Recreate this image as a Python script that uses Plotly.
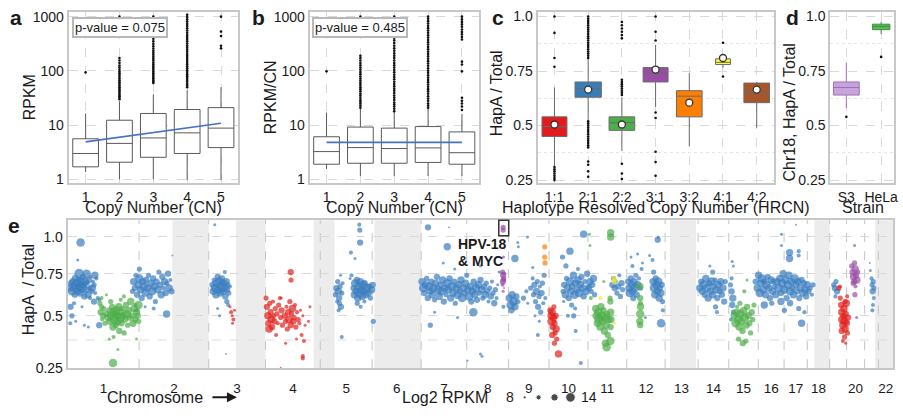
import plotly.graph_objects as go

W, H = 903, 419
FONT = "Liberation Sans, Arial, Helvetica, sans-serif"
INK = "#1a1a1a"
FRAME = "#c8c8c8"
GRID = "#d9d9d9"

# ---------------- panel a : RPKM by copy number ----------------
CN = [1, 2, 3, 4, 5]
A_Q1 = [1.7, 2.07, 2.55, 3.0, 3.85]
A_MED = [3.0, 4.6, 5.8, 7.2, 8.8]
A_Q3 = [5.6, 12.3, 16.4, 19.4, 21.0]
A_LOW = [1.36, 1.0, 1.0, 0.97, 0.97]
A_HIGH = [16.4, 27.6, 37.0, 44.0, 50.0]
A_OUT1 = [94]
A_OUT2 = [30, 32, 34, 36, 38, 41, 44, 47, 50, 54, 58, 62, 67, 72, 78, 84, 90, 97, 105, 115, 126, 140, 155, 172, 1000]
A_OUT3 = [60, 64, 68, 73, 78, 84, 90, 97, 105, 113, 122, 132, 143, 155, 168, 182, 198, 215, 235, 258, 285, 315, 350, 390, 440, 1000]
A_OUT4 = [50, 54, 58, 63, 68, 74, 80, 87, 95, 103, 112, 122, 133, 145, 158, 172, 188, 205, 225, 245, 268, 292, 320, 350, 385, 420, 460, 505, 555, 610, 670, 735, 810, 890, 980, 1080]
A_OUT5 = [260, 290, 440, 530, 1000]
A_TREND = [4.9, 10.8]
A_PVAL = "p-value = 0.075"

# ---------------- panel b : RPKM/CN by copy number ----------------
B_Q1 = [1.9, 1.98, 1.98, 2.05, 1.9]
B_MED = [3.25, 3.85, 3.7, 3.8, 3.1]
B_Q3 = [6.1, 9.2, 8.8, 9.4, 7.5]
B_LOW = [1.55, 1.15, 1.15, 1.15, 1.15]
B_HIGH = [17, 20, 19, 20, 16]
B_OUT1 = [98]
B_OUT2 = [21, 23, 25, 27, 29, 32, 35, 38, 42, 46, 50, 55, 60, 66, 72, 79, 87, 95, 105, 115, 127, 140, 155, 172, 190, 1000]
B_OUT3 = [18, 20, 22, 24, 26, 29, 32, 35, 39, 43, 47, 52, 57, 63, 70, 77, 85, 94, 104, 115, 127, 140, 155, 172, 190, 210, 235, 260, 290, 325, 365, 410, 450, 1000]
B_OUT4 = [21, 23, 25, 28, 31, 34, 38, 42, 46, 51, 56, 62, 68, 75, 83, 92, 101, 112, 124, 137, 151, 167, 185, 205, 226, 250, 276, 305, 337, 372, 411, 454, 502, 555, 613, 677, 748, 826, 913, 1000]
B_OUT5 = [19, 22, 25, 28, 32, 98, 131, 148, 380, 420, 470, 520, 580, 650, 720, 800, 890, 1000]
B_TREND = [4.8, 4.8]
B_PVAL = "p-value = 0.485"

# ---------------- panel c : HapA/Total by HRCN ----------------
HRCN = ["1:1", "2:1", "2:2", "3:1", "3:2", "4:1", "4:2"]
C_Q1 = [0.45, 0.63, 0.478, 0.70, 0.54, 0.78, 0.605]
C_MED = [0.495, 0.67, 0.513, 0.74, 0.635, 0.79, 0.65]
C_Q3 = [0.54, 0.70, 0.54, 0.766, 0.66, 0.806, 0.695]
C_LOW = [0.315, 0.525, 0.383, 0.586, 0.405, 0.765, 0.49]
C_HIGH = [0.675, 0.805, 0.63, 0.87, 0.74, 0.82, 0.70]
C_MEAN = [0.505, 0.665, 0.505, 0.757, 0.605, 0.81, 0.665]
C_OUT = [
    [1.0, 0.925, 0.81, 0.77, 0.31, 0.30, 0.29, 0.28, 0.27, 0.26, 0.25],
    [1.0, 0.99, 0.98, 0.97, 0.96, 0.95, 0.94, 0.93, 0.92, 0.91, 0.90, 0.89, 0.88, 0.87, 0.86, 0.85, 0.84, 0.83, 0.82, 0.81,
     0.52, 0.51, 0.50, 0.49, 0.48, 0.47, 0.46, 0.45, 0.44, 0.43, 0.42, 0.41, 0.40, 0.335, 0.32, 0.29, 0.265],
    [0.975, 0.96, 0.945, 0.93, 0.915, 0.90, 0.71, 0.70, 0.69, 0.68, 0.67, 0.66, 0.65, 0.64, 0.325, 0.28, 0.255],
    [1.0, 0.93, 0.89, 0.56, 0.535, 0.38, 0.333, 0.27],
    [],
    [0.88, 0.725],
    [],
]

# ---------------- panel d : Chr18 HapA/Total by strain ----------------
STRAIN = ["S3", "HeLa"]
D_Q1 = [0.64, 0.94]
D_MED = [0.675, 0.955]
D_Q3 = [0.70, 0.965]
D_LOW = [0.58, 0.92]
D_HIGH = [0.79, 0.977]
D_OUT = [[0.54], [0.815]]

# ---------------- panel e : genome-wide HapA/Total ----------------
CHROM_LEN = [249, 243, 198, 191, 181, 171, 159, 146, 141, 136, 135, 134, 115, 107, 103, 90, 81, 78, 59, 63, 48, 51]
TICK_CHROMS = ["1", "2", "3", "4", "5", "6", "7", "8", "9", "10", "11", "12", "13", "14", "15", "16", "17", "18", "20", "22"]
GRAY_BANDS = [(365, 492), (587, 690), (858, 931), (1070, 1233), (2101, 2192), (2605, 2658), (2817, 2879)]
LEGEND_R = [8, 10, 12, 14]

# (genome position Mb, HapA/Total, log2 RPKM)
E_BLUE = [
    (8, .66, 12), (12, .69, 11), (15, .64, 13), (18, .70, 12), (22, .67, 13), (25, .62, 11), (27, .72, 12), (30, .66, 14),
    (33, .69, 13), (36, .64, 12), (38, .71, 11), (41, .67, 13), (44, .63, 12), (47, .70, 13), (50, .66, 14), (53, .73, 11),
    (55, .68, 12), (58, .61, 11), (60, .70, 13), (63, .65, 12), (66, .75, 13), (68, .69, 10), (71, .62, 12), (74, .71, 11),
    (77, .66, 10), (80, .73, 9), (84, .64, 10), (88, .70, 9), (92, .68, 10), (96, .63, 9), (100, .72, 9), (105, .60, 9),
    (45, .96, 13), (40, .75, 14), (35, .84, 8), (10, .55, 11), (15, .50, 10), (9, .46, 9), (22, .57, 9), (28, .47, 8),
    (50, .55, 8), (58, .45, 8), (72, .44, 8), (92, .58, 11), (110, .45, 11), (110, .59, 9), (95, .74, 12), (86, .66, 12), (78, .60, 9),
    (226, .64, 10), (230, .70, 12), (234, .66, 11), (238, .74, 10), (242, .62, 11), (246, .68, 12), (250, .72, 13), (254, .65, 12),
    (258, .60, 11), (262, .70, 12), (266, .67, 13), (270, .63, 12), (274, .71, 11), (278, .66, 12), (282, .74, 10), (286, .61, 11),
    (290, .69, 12), (294, .64, 13), (298, .72, 11), (302, .67, 12), (306, .58, 10), (310, .70, 11), (314, .65, 12), (318, .76, 10),
    (322, .68, 11), (326, .62, 12), (330, .73, 11), (334, .66, 10), (338, .70, 12), (342, .63, 11), (346, .69, 10), (350, .75, 11),
    (354, .66, 12), (358, .71, 9), (362, .64, 11), (236, .56, 9), (240, .53, 9), (300, .54, 9), (345, .51, 12), (365, .87, 7),
    (250, .78, 10), (270, .55, 8),
    (505, .68, 11), (508, .64, 12), (511, .71, 10), (514, .66, 13), (517, .62, 12), (520, .69, 13), (523, .73, 11), (526, .65, 12),
    (529, .70, 13), (532, .63, 12), (535, .67, 14), (538, .72, 11), (541, .64, 12), (544, .69, 12), (547, .66, 13), (550, .61, 11),
    (553, .70, 12), (556, .65, 11), (559, .68, 10), (562, .63, 10), (566, .67, 9), (548, .76, 9), (555, .58, 10), (560, .56, 9),
    (513, 1.09, 8), (523, .54, 8), (530, .50, 8), (552, .31, 7),
    (934, .62, 10), (937, .66, 11), (940, .58, 9), (942, .70, 10), (944, .64, 12), (947, .60, 11), (950, .67, 10), (953, .55, 11),
    (956, .63, 10), (959, .69, 9), (945, .53, 9), (952, .74, 8), (948, .57, 10),
    (997, .66, 11), (1000, .62, 12), (1003, .69, 13), (1006, .64, 12), (1009, .71, 11), (1012, .60, 12), (1015, .67, 13),
    (1018, .63, 14), (1021, .70, 12), (1024, .65, 13), (1027, .61, 12), (1030, .68, 13), (1033, .64, 12), (1036, .69, 11),
    (1040, .62, 12), (1044, .66, 13), (1048, .63, 12), (1052, .67, 11), (1056, .60, 10), (1060, .65, 12), (1064, .68, 11),
    (1010, .57, 10), (1022, .55, 9), (1035, .58, 9), (1017, 1.09, 9), (1019, 1.05, 10), (1020, .96, 11), (988, .89, 9),
    (1002, .85, 8), (956, .39, 9), (1066, .47, 10), (990, .74, 9), (985, .72, 8),
    (1236, .70, 12), (1240, .66, 13), (1244, .63, 11), (1248, .68, 12), (1252, .72, 10), (1256, .60, 11), (1260, .67, 13),
    (1264, .64, 12), (1268, .70, 11), (1272, .62, 12), (1276, .66, 13), (1280, .59, 10), (1284, .69, 12), (1288, .73, 11),
    (1292, .65, 13), (1296, .61, 12), (1300, .68, 11), (1304, .64, 13), (1308, .71, 12), (1312, .58, 11), (1316, .66, 12),
    (1320, .62, 10), (1324, .69, 13), (1328, .65, 12), (1332, .72, 11), (1336, .60, 12), (1340, .67, 13), (1344, .63, 12),
    (1348, .70, 11), (1352, .57, 10), (1356, .66, 12), (1360, .62, 13), (1364, .68, 12), (1368, .64, 11), (1372, .71, 12),
    (1376, .60, 13), (1380, .66, 12), (1384, .63, 11), (1388, .69, 12), (1392, .74, 10), (1396, .65, 12), (1400, .61, 13),
    (1404, .67, 12), (1408, .58, 11), (1412, .64, 12), (1416, .70, 11), (1420, .62, 12), (1424, .66, 13), (1428, .59, 11),
    (1432, .68, 12), (1436, .63, 10), (1440, .71, 11), (1444, .65, 12), (1448, .60, 10), (1452, .67, 11), (1456, .62, 12),
    (1460, .69, 10), (1464, .64, 11), (1468, .58, 9), (1472, .66, 10), (1476, .61, 11), (1480, .70, 9), (1484, .63, 10),
    (1488, .57, 11), (1492, .65, 10), (1496, .60, 9), (1500, .68, 8),
    (1540, .60, 12), (1545, .56, 13), (1550, .62, 12), (1555, .58, 13), (1560, .55, 12), (1565, .61, 11), (1570, .58, 10),
    (1548, .53, 11), (1257, 1.07, 11), (1330, 1.07, 7), (1324, .93, 12), (1265, .45, 10), (1310, .82, 8), (1360, .49, 8),
    (1440, .31, 8), (1445, .30, 8), (1395, .28, 7), (1415, .52, 13), (1560, .85, 12), (1570, .96, 8), (1572, .93, 8),
    (1604, 1.0, 8), (1520, .55, 9), (1505, .76, 8), (1350, .78, 8), (1280, .52, 8), (1440, .80, 8),
    (1615, .66, 10), (1622, .72, 9), (1625, .62, 10), (1628, .68, 11), (1632, .58, 10), (1635, .64, 12), (1638, .70, 10),
    (1641, .55, 11), (1644, .61, 10), (1647, .67, 9), (1650, .52, 10), (1653, .63, 11), (1656, .69, 10), (1659, .57, 9),
    (1662, .74, 10), (1666, .60, 9), (1630, .50, 8), (1645, .47, 8), (1640, .40, 9), (1622, .79, 8), (1600, .64, 9),
    (1590, .60, 10), (1605, .57, 8),
    (1728, .64, 10), (1732, .68, 11), (1736, .62, 12), (1740, .72, 10), (1744, .66, 12), (1748, .60, 11), (1752, .70, 13),
    (1756, .64, 12), (1760, .67, 11), (1764, .74, 12), (1768, .62, 13), (1772, .69, 12), (1776, .65, 11), (1780, .71, 12),
    (1784, .63, 13), (1788, .68, 12), (1792, .73, 11), (1796, .66, 12), (1800, .61, 11), (1804, .70, 10), (1808, .64, 12),
    (1812, .75, 11), (1816, .67, 10), (1758, .56, 10), (1770, .54, 9), (1726, .86, 10), (1752, .90, 12), (1738, .80, 10),
    (1800, 1.02, 12), (1780, .78, 9), (1765, .50, 10), (1772, .42, 9), (1745, .50, 9), (1790, .27, 9), (1730, .58, 8),
    (1818, .66, 11), (1822, .70, 12), (1826, .64, 10), (1830, .68, 11), (1834, .72, 12), (1838, .62, 10), (1900, .68, 11),
    (1904, .72, 10), (1908, .66, 11), (1912, .70, 9), (1916, .63, 10), (1920, .67, 11), (1924, .74, 9), (1928, .61, 10),
    (1932, .69, 11), (1936, .65, 10),
    (1955, .70, 11), (1958, .66, 12), (1961, .63, 13), (1964, .72, 11), (1967, .68, 12), (1970, .64, 12), (1973, .60, 11),
    (1976, .70, 12), (1979, .66, 13), (1982, .74, 10), (1985, .62, 11), (1988, .68, 12), (1993, .72, 9), (1998, .66, 10),
    (2002, .78, 9), (2005, .82, 8), (2042, .70, 12), (2045, .66, 13), (2048, .62, 12), (2051, .72, 11), (2054, .68, 13),
    (2057, .64, 12), (2060, .70, 13), (2063, .60, 12), (2066, .66, 11), (2069, .63, 12), (2072, .68, 11), (2075, .58, 10),
    (2044, .76, 10), (2058, .98, 11), (2060, 1.0, 8), (2070, .46, 13), (2076, .53, 9), (2040, .84, 9), (1965, .86, 8),
    (1970, .80, 9), (1988, .88, 8), (2030, .87, 8), (2015, .49, 8),
    (2205, .66, 12), (2210, .70, 11), (2214, .64, 12), (2218, .68, 13), (2222, .62, 11), (2226, .72, 12), (2230, .66, 13),
    (2234, .60, 12), (2238, .69, 11), (2242, .64, 12), (2246, .70, 13), (2250, .62, 12), (2254, .67, 11), (2258, .71, 10),
    (2262, .65, 12), (2266, .60, 11), (2270, .68, 12), (2274, .64, 11), (2278, .70, 12), (2282, .62, 11), (2286, .66, 12),
    (2290, .58, 11), (2294, .70, 10), (2250, .76, 10), (2260, .55, 10), (2265, .52, 9), (2240, .80, 8),
    (2312, .68, 10), (2316, .64, 11), (2320, .60, 12), (2318, .56, 11), (2322, .52, 10), (2314, .48, 9), (2322, .80, 8),
    (2316, .72, 9), (2318, .83, 8),
    (2400, .70, 11), (2405, .66, 12), (2410, .74, 12), (2414, .63, 13), (2418, .69, 12), (2422, .72, 13), (2426, .65, 12),
    (2430, .70, 11), (2434, .62, 12), (2438, .68, 13), (2442, .73, 11), (2446, .66, 12), (2450, .60, 11), (2454, .71, 12),
    (2458, .64, 12), (2462, .70, 11), (2466, .67, 10), (2470, .62, 12), (2456, .57, 10), (2430, .56, 12),
    (2475, .70, 12), (2480, .66, 13), (2484, .72, 12), (2488, .63, 11), (2492, .69, 13), (2496, .75, 12), (2500, .65, 13),
    (2504, .71, 12), (2508, .60, 11), (2512, .68, 13), (2516, .74, 12), (2520, .64, 13), (2524, .70, 12), (2528, .66, 11),
    (2532, .62, 12), (2536, .72, 13), (2540, .68, 12), (2544, .64, 11), (2548, .70, 12), (2552, .60, 11), (2556, .66, 12),
    (2560, .71, 11), (2564, .63, 12), (2568, .69, 11), (2572, .65, 12), (2576, .61, 11), (2580, .68, 12), (2584, .64, 11),
    (2590, .66, 10), (2596, .62, 9), (2600, .68, 10),
    (2490, 1.02, 8), (2490, .94, 8), (2518, .89, 12), (2518, .85, 12), (2540, 1.09, 7), (2550, .90, 9), (2550, .87, 9),
    (2488, .58, 12), (2500, .53, 10), (2560, .46, 12), (2550, .54, 10), (2570, .52, 9), (2520, .57, 11),
    (2672, .68, 10), (2676, .66, 11), (2680, .70, 10), (2684, .64, 11), (2678, .61, 9),
    (2804, .72, 9), (2806, .68, 10), (2808, .64, 11), (2810, .70, 10), (2812, .60, 9), (2809, .56, 9), (2807, .53, 9),
    (2812, .66, 10), (2800, .77, 8), (2798, .82, 7),
]

E_GREEN = [
    (112, .57, 10), (115, .52, 11), (118, .55, 10), (120, .48, 9), (123, .50, 11), (126, .54, 10), (130, .46, 10), (135, .51, 11),
    (140, .49, 12), (145, .53, 11), (148, .47, 12), (152, .50, 13), (155, .55, 11), (158, .44, 12), (160, .52, 13), (163, .48, 14),
    (166, .51, 12), (168, .45, 11), (170, .53, 13), (173, .50, 12), (175, .47, 13), (178, .55, 12), (180, .42, 11), (183, .49, 14),
    (186, .52, 12), (188, .46, 11), (191, .54, 10), (194, .50, 12), (197, .41, 10), (200, .48, 11), (203, .56, 11), (206, .51, 13),
    (209, .45, 10), (212, .53, 12), (215, .49, 11), (220, .58, 12), (224, .50, 11), (228, .46, 12), (232, .54, 12), (236, .48, 11),
    (240, .52, 12), (244, .50, 11), (248, .47, 10), (247, .56, 13),
    (118, .60, 9), (135, .62, 8), (145, .38, 8), (160, .39, 9), (150, .58, 10), (196, .61, 9), (175, .33, 8), (240, .38, 8),
    (158, .27, 13), (185, .59, 9),
    (1842, .54, 12), (1845, .50, 13), (1848, .46, 12), (1851, .52, 13), (1854, .48, 14), (1857, .44, 12), (1860, .55, 12),
    (1863, .50, 13), (1866, .47, 12), (1869, .53, 11), (1872, .42, 12), (1875, .49, 13), (1878, .45, 12), (1881, .51, 11),
    (1884, .40, 11), (1887, .48, 12), (1876, .36, 12), (1880, .34, 13), (1893, .58, 11), (1894, .52, 12), (1895, .48, 12),
    (1894, .44, 11), (1893, .37, 13), (1892, .60, 10), (1894, 1.03, 12), (1894, 1.0, 12), (1820, 1.02, 8), (1822, .94, 8),
    (1825, .60, 9), (1870, .70, 8),
    (1996, .67, 12), (1997, .60, 11), (1998, .55, 12), (1997, .51, 13), (1996, .47, 12), (1997, .45, 11), (1998, .57, 10),
    (2325, .50, 12), (2330, .46, 13), (2334, .52, 12), (2338, .48, 13), (2342, .44, 12), (2346, .51, 13), (2350, .47, 12),
    (2354, .42, 11), (2358, .53, 12), (2362, .49, 13), (2366, .45, 12), (2370, .55, 11), (2374, .50, 12), (2378, .46, 11),
    (2382, .41, 10), (2386, .52, 11), (2390, .48, 10), (2340, .38, 10), (2355, .36, 11), (2366, .37, 10), (2394, .56, 10),
    (2345, .57, 10), (2335, .55, 9), (2360, .64, 9), (2370, .71, 8),
]

E_RED = [
    (566, .55, 8), (570, .52, 9), (574, .50, 8), (578, .48, 9), (582, .53, 8), (575, .46, 8),
    (692, .60, 10), (695, .55, 11), (698, .50, 12), (700, .46, 11), (703, .43, 12), (705, .57, 10), (708, .52, 11), (710, .48, 12),
    (713, .44, 11), (716, .58, 9), (718, .50, 10), (721, .47, 11), (724, .54, 10), (727, .40, 9), (730, .51, 10), (733, .46, 9),
    (736, .56, 10), (740, .60, 9), (743, .49, 10), (746, .53, 11), (749, .45, 10), (778, .76, 11), (779, .71, 10), (757, .50, 11),
    (760, .47, 10), (763, .55, 9), (766, .43, 10), (769, .52, 11), (772, .48, 12), (775, .58, 10), (778, .45, 11), (781, .51, 10),
    (784, .54, 12), (787, .47, 11), (790, .49, 10), (793, .56, 9), (796, .44, 10), (800, .52, 9), (804, .48, 10), (808, .46, 9),
    (812, .53, 8), (816, .40, 9), (820, .50, 8), (824, .37, 9), (828, .45, 8), (820, .30, 9), (820, .29, 9), (840, .47, 8),
    (845, .55, 8), (798, .38, 8), (760, .36, 8), (745, .60, 8), (743, .25, 7),
    (1684, .53, 11), (1686, .50, 12), (1688, .47, 13), (1690, .52, 12), (1692, .44, 11), (1694, .49, 12), (1696, .55, 10),
    (1698, .46, 11), (1700, .41, 10), (1702, .50, 11), (1704, .43, 12), (1706, .38, 10), (1690, .40, 11), (1698, .36, 10),
    (1712, .31, 12),
    (2690, .66, 10), (2694, .67, 9),
    (2695, .60, 10), (2698, .56, 11), (2700, .52, 12), (2702, .48, 13), (2704, .45, 12), (2706, .50, 11), (2708, .54, 12),
    (2710, .47, 13), (2712, .43, 12), (2714, .51, 11), (2716, .57, 12), (2718, .46, 11), (2720, .41, 10), (2722, .49, 11),
    (2710, .39, 10), (2704, .37, 9), (2714, .36, 8), (2700, .42, 11), (2719, .61, 9), (2712, .58, 10),
]

E_PURPLE = [
    (1519, 1.07, 10), (1519, 1.05, 10), (1517, .76, 10), (1519, .74, 11), (1521, .72, 10), (1518, .70, 11), (1520, .71, 10),
    (1522, .75, 9), (1517, .68, 9), (1520, .86, 8), (1521, .92, 7), (1519, .64, 8), (1522, .66, 7),
    (2735, .80, 10), (2738, .76, 11), (2741, .73, 12), (2744, .70, 11), (2747, .78, 12), (2750, .74, 11), (2753, .71, 12),
    (2745, .82, 10), (2740, .69, 10), (2748, .67, 9), (2756, .76, 10), (2745, .94, 8), (2746, .62, 10), (2752, .49, 8),
]

E_ORANGE = [(1664, .93, 10), (1664, .86, 10), (1665, .82, 10), (1667, .74, 7)]
E_YELLOW = [(1906, .72, 10), (1907, .70, 10), (1858, .60, 9), (1907, .46, 8)]


# ---------------- helpers (layout only) ----------------
def dx(p0, p1):
    return [p0 / W, p1 / W]


def dy(p0, p1):
    return [1 - p1 / H, 1 - p0 / H]


def s(v):
    # HapA/Total axis of panel e is drawn on a compressed (power 0.6) scale
    return v ** 0.6


def msize(r):
    return max(1.6, 1.1 * r - 5.8)


fig = go.Figure()

# ---- panels a & b ----
for ax, Q1, MED, Q3, LO, HI, OUTS, TREND in [
    ("", A_Q1, A_MED, A_Q3, A_LOW, A_HIGH, [A_OUT1, A_OUT2, A_OUT3, A_OUT4, A_OUT5], A_TREND),
    ("2", B_Q1, B_MED, B_Q3, B_LOW, B_HIGH, [B_OUT1, B_OUT2, B_OUT3, B_OUT4, B_OUT5], B_TREND),
]:
    for i, c in enumerate(CN):
        fig.add_trace(go.Box(x=[c], q1=[Q1[i]], median=[MED[i]], q3=[Q3[i]], lowerfence=[LO[i]],
                             upperfence=[HI[i]], width=0.76, whiskerwidth=0, fillcolor="white",
                             line=dict(color="#5a5a5a", width=1), boxpoints=False,
                             xaxis="x" + ax, yaxis="y" + ax, showlegend=False, hoverinfo="skip"))
        fig.add_trace(go.Scatter(x=[c] * len(OUTS[i]), y=OUTS[i], mode="markers",
                                 marker=dict(size=2.6, color="#111"), xaxis="x" + ax, yaxis="y" + ax,
                                 showlegend=False, hoverinfo="skip", cliponaxis=False))
    fig.add_trace(go.Scatter(x=[CN[0], CN[-1]], y=TREND, mode="lines", line=dict(color="#4472c4", width=1.6),
                             xaxis="x" + ax, yaxis="y" + ax, showlegend=False, hoverinfo="skip"))

# ---- panel c ----
C_FILL = ["#e41a1c", "#377eb8", "#4daf4a", "#984ea3", "#ff7f00", "#ffff33", "#a65628"]
C_WIDTH = [0.74, 0.78, 0.76, 0.74, 0.76, 0.44, 0.76]
for i, lab in enumerate(HRCN):
    xpos = i + 1
    fig.add_trace(go.Box(x=[xpos], q1=[C_Q1[i]], median=[C_MED[i]], q3=[C_Q3[i]], lowerfence=[C_LOW[i]],
                         upperfence=[C_HIGH[i]], width=C_WIDTH[i], whiskerwidth=0, fillcolor=C_FILL[i],
                         line=dict(color="#6a6a6a", width=1), boxpoints=False, xaxis="x3", yaxis="y3",
                         showlegend=False, hoverinfo="skip"))
    if C_OUT[i]:
        fig.add_trace(go.Scatter(x=[xpos] * len(C_OUT[i]), y=C_OUT[i], mode="markers",
                                 marker=dict(size=2.6, color="#111"), xaxis="x3", yaxis="y3",
                                 showlegend=False, hoverinfo="skip", cliponaxis=False))
fig.add_trace(go.Scatter(x=list(range(1, len(HRCN) + 1)), y=C_MEAN, mode="markers",
                         marker=dict(size=7, color="white", line=dict(color="#333", width=1.3)),
                         xaxis="x3", yaxis="y3", showlegend=False, hoverinfo="skip"))

# ---- panel d ----
D_FILL = ["#c9a3dc", "#5cb85c"]
D_LINE = ["#9b72b0", "#3f8f3f"]
D_WIDTH = [0.74, 0.5]
for i, lab in enumerate(STRAIN):
    fig.add_trace(go.Box(x=[i + 1], q1=[D_Q1[i]], median=[D_MED[i]], q3=[D_Q3[i]], lowerfence=[D_LOW[i]],
                         upperfence=[D_HIGH[i]], width=D_WIDTH[i], whiskerwidth=0, fillcolor=D_FILL[i],
                         line=dict(color=D_LINE[i], width=1), boxpoints=False, xaxis="x4", yaxis="y4",
                         showlegend=False, hoverinfo="skip"))
    fig.add_trace(go.Scatter(x=[i + 1] * len(D_OUT[i]), y=D_OUT[i], mode="markers",
                             marker=dict(size=2.6, color="#111"), xaxis="x4", yaxis="y4",
                             showlegend=False, hoverinfo="skip"))

# ---- panel e ----
starts = [0]
for L in CHROM_LEN:
    starts.append(starts[-1] + L)
GENOME = starts[-1]
centers = [starts[i] + CHROM_LEN[i] / 2 for i in range(len(CHROM_LEN))]
tick_pos = [centers[int(c) - 1] for c in TICK_CHROMS]

for pts, col in [(E_BLUE, "#3a7dbf"), (E_GREEN, "#4fae4a"), (E_RED, "#e3211c"), (E_PURPLE, "#9a4fa6"),
                 (E_ORANGE, "#ff7f00"), (E_YELLOW, "#f0ee2a")]:
    fig.add_trace(go.Scatter(x=[p[0] for p in pts], y=[s(p[1]) for p in pts], mode="markers",
                             marker=dict(size=[msize(p[2]) for p in pts], color=col, line=dict(width=0)),
                             xaxis="x5", yaxis="y5", showlegend=False, hoverinfo="skip"))

# legend of marker size (overlay pixel axis)
LEG_X = [527, 541, 557, 573]
fig.add_trace(go.Scatter(x=LEG_X, y=[405] * 4, mode="markers",
                         marker=dict(size=[msize(r) for r in LEGEND_R], color="#000"),
                         xaxis="x7", yaxis="y7", showlegend=False, hoverinfo="skip", cliponaxis=False))

shapes = []
for a0, a1 in GRAY_BANDS:
    shapes.append(dict(type="rect", xref="x5", yref="y5 domain", x0=a0, x1=a1, y0=0, y1=1,
                       fillcolor="#ececec", line=dict(width=0), layer="below"))
for b in starts[1:-1]:
    shapes.append(dict(type="line", xref="x5", yref="y5 domain", x0=b, x1=b, y0=0, y1=1,
                       line=dict(color="#c4c4c4", width=1, dash="dash"), layer="below"))
shapes.append(dict(type="line", xref="x5 domain", yref="y5", x0=0, x1=1, y0=s(0.375), y1=s(0.375),
                   line=dict(color="#dcdcdc", width=1, dash="dash"), layer="below"))
# highlight box around HPV-18 / MYC point
shapes.append(dict(type="rect", xref="paper", yref="paper", x0=501 / W, x1=511 / W, y0=1 - 239 / H, y1=1 - 223 / H,
                   line=dict(color="#333", width=1.5), fillcolor="rgba(0,0,0,0)"))

ann = []


def text(x, y, t, size=16, bold=False, xanchor="center", angle=0, **kw):
    ann.append(dict(x=x / W, y=1 - y / H, xref="paper", yref="paper", text=("<b>%s</b>" % t) if bold else t,
                    showarrow=False, xanchor=xanchor, yanchor="middle", textangle=angle,
                    font=dict(family=FONT, size=size, color=INK), **kw))


text(16, 15, "a", 21, True)
text(260, 15, "b", 21, True)
text(500, 15, "c", 21, True)
text(796, 15, "d", 21, True)
text(14, 229, "e", 21, True)

text(154, 210, "Copy Number (CN)")
text(396, 210, "Copy Number (CN)")
text(659, 210, "Haplotype Resolved Copy Number (HRCN)")
text(867, 210, "Strain")
text(30, 97, "RPKM", angle=-90)
text(272, 97, "RPKM/CN", angle=-90)
text(499, 93, "HapA / Total", angle=-90)
text(793, 112, "Chr18, HapA / Total", angle=-90)
text(28, 294, "HapA\u00a0 / Total", angle=-90)

text(121, 25, A_PVAL, 13, bordercolor="#b8b8b8", borderwidth=2, borderpad=1, bgcolor="white")
text(362, 25, B_PVAL, 13, bordercolor="#b8b8b8", borderwidth=2, borderpad=1, bgcolor="white")

text(458, 248, "HPV-18", 14, True, xanchor="left")
text(458, 265, "&amp; MYC", 14, True, xanchor="left")

text(156, 405, "Chromosome")
ann.append(dict(x=238 / W, y=1 - 405 / H, xref="paper", yref="paper", ax=-26, ay=0, text="",
                showarrow=True, arrowhead=2, arrowsize=1, arrowwidth=2, arrowcolor=INK))
text(447, 405, "Log2 RPKM")
text(512, 405, "8", 14)
text(592, 405, "14", 14)

TICKF = dict(family=FONT, size=14, color=INK)
frame = dict(showline=True, mirror=True, linecolor=FRAME, linewidth=2, zeroline=False, ticks="",
             gridcolor=GRID, griddash="dash", gridwidth=1)

LOGY = dict(type="log", range=[-0.07, 3.09], tickvals=[1, 10, 100, 1000], ticktext=["1", "10", "100", "1000"],
            tickfont=TICKF, **frame)
CNX = dict(range=[0.5, 5.5], tickvals=CN, ticktext=[str(c) for c in CN], tickfont=TICKF, **frame)
FRACY = dict(range=[0.236, 1.022], tickvals=[0.25, 0.5, 0.75, 1.0], ticktext=["0.25", "0.5", "0.75", "1.0"],
             tickfont=TICKF,
             minor=dict(tickvals=[0.375, 0.625, 0.875], showgrid=True, gridcolor="#e6e6e6", griddash="dot"), **frame)

fig.update_layout(
    width=W, height=H, margin=dict(l=0, r=0, t=0, b=0), autosize=False,
    paper_bgcolor="white", plot_bgcolor="rgba(0,0,0,0)", font=dict(family=FONT, color=INK),
    showlegend=False,
    xaxis=dict(domain=dx(69, 239), anchor="y", **CNX),
    yaxis=dict(domain=dy(9, 185), anchor="x", **LOGY),
    xaxis2=dict(domain=dx(311, 481), anchor="y2", **CNX),
    yaxis2=dict(domain=dy(9, 185), anchor="x2", **LOGY),
    xaxis3=dict(domain=dx(540, 777), anchor="y3", range=[0.5, 7.5], tickvals=list(range(1, 8)), ticktext=HRCN,
                tickfont=TICKF, **frame),
    yaxis3=dict(domain=dy(9, 185), anchor="x3", **FRACY),
    xaxis4=dict(domain=dx(834, 898), anchor="y4", range=[0.54, 2.37], tickvals=[1, 2], ticktext=STRAIN,
                tickfont=TICKF, **frame),
    yaxis4=dict(domain=dy(9, 185), anchor="x4", **FRACY),
    xaxis5=dict(domain=dx(68, 897), anchor="y5", range=[0, GENOME], tickvals=tick_pos, ticktext=TICK_CHROMS,
                showgrid=False, ticklabelstandoff=7, tickfont=dict(family=FONT, size=13.5, color=INK), **frame),
    yaxis5=dict(domain=dy(223, 375), anchor="x5", range=[s(0.2485), s(1.1236)],
                tickvals=[s(0.25), s(0.5), s(0.75), s(1.0)], ticktext=["0.25", "0.5", "0.75", "1.0"],
                tickfont=TICKF, **frame),
    xaxis7=dict(domain=[0, 1], range=[0, W], visible=False, anchor="y7", fixedrange=True),
    yaxis7=dict(domain=[0, 1], range=[H, 0], visible=False, anchor="x7", fixedrange=True),
    shapes=shapes, annotations=ann,
)

fig.write_html("out.html", config={"displayModeBar": False, "staticPlot": True},
               post_script="document.body.style.margin='0';document.body.style.overflow='hidden';")
